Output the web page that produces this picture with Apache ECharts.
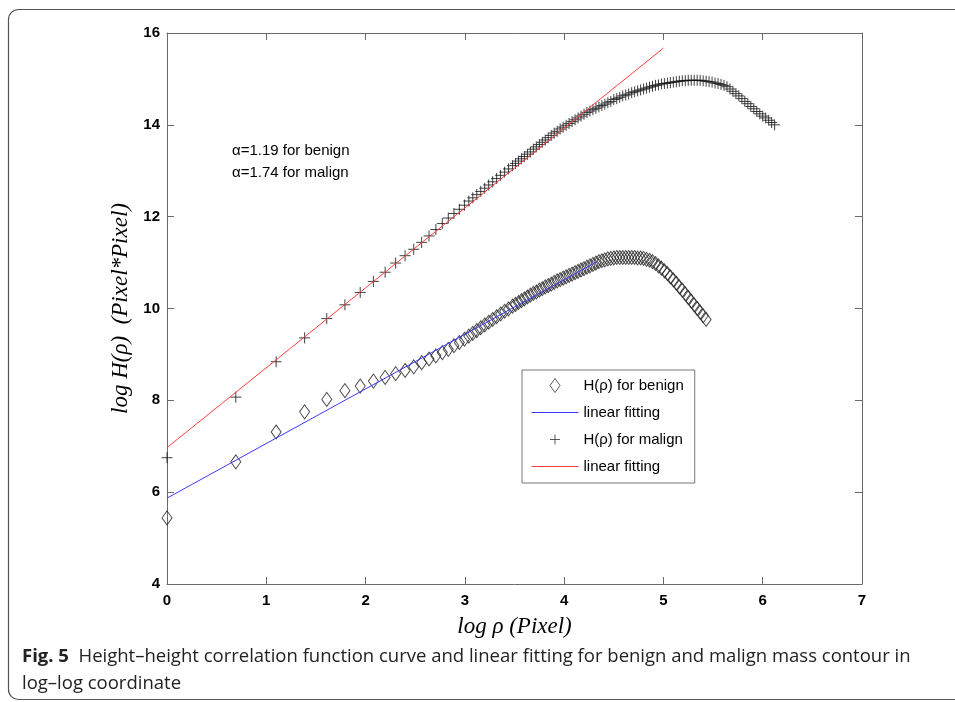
<!DOCTYPE html>
<html>
<head>
<meta charset="utf-8">
<script src="https://cdn.jsdelivr.net/npm/echarts@6/dist/echarts.min.js"></script>
<style>html,body{margin:0;padding:0;background:#fff;}#c{width:955px;height:702px;}</style>
</head>
<body>
<div id="c"></div>
<script>
// log rho values (shared by both curves)
const logRho = [0, 0.693, 1.099, 1.386, 1.609, 1.792, 1.946, 2.079, 2.197, 2.303, 2.398, 2.485, 2.565, 2.639, 2.708, 2.773, 2.833, 2.890, 2.944, 2.996,
  3.04, 3.08, 3.12, 3.16, 3.20, 3.24, 3.28, 3.32, 3.36, 3.40, 3.44, 3.48,
  3.51, 3.54, 3.57, 3.60, 3.63, 3.66, 3.69, 3.72, 3.75, 3.78, 3.81, 3.84, 3.87, 3.90, 3.93, 3.96, 3.99,
  4.02, 4.05, 4.08, 4.11, 4.14, 4.17, 4.20, 4.23, 4.26, 4.29, 4.32, 4.35, 4.38, 4.41, 4.44, 4.47, 4.50,
  4.53, 4.56, 4.59, 4.62, 4.65, 4.68, 4.71, 4.74, 4.77, 4.80, 4.83, 4.86, 4.89, 4.92, 4.95, 4.98,
  5.01, 5.04, 5.07, 5.10, 5.13, 5.16, 5.19, 5.22, 5.25, 5.28, 5.31, 5.34, 5.37, 5.40, 5.43,
  5.46, 5.49, 5.52, 5.55, 5.58, 5.61, 5.64, 5.67, 5.70, 5.73, 5.76, 5.79, 5.82, 5.85, 5.88, 5.91, 5.94, 5.97,
  6.00, 6.03, 6.06, 6.09, 6.12];

// log H(rho) for benign (first 97 rho values)
const benignH = [5.44, 6.66, 7.31, 7.75, 8.02, 8.21, 8.31, 8.42, 8.50, 8.58, 8.65, 8.73, 8.82, 8.90, 8.97, 9.04, 9.11, 9.19, 9.26, 9.33,
  9.40, 9.46, 9.52, 9.58, 9.64, 9.70, 9.76, 9.82, 9.88, 9.94, 9.99, 10.05,
  10.09, 10.13, 10.17, 10.21, 10.25, 10.29, 10.33, 10.36, 10.40, 10.43, 10.47, 10.50, 10.53, 10.57, 10.60, 10.63, 10.66,
  10.69, 10.72, 10.75, 10.78, 10.81, 10.84, 10.87, 10.90, 10.93, 10.96, 10.99, 11.02, 11.04, 11.06, 11.08, 11.09, 11.10,
  11.11, 11.11, 11.11, 11.11, 11.11, 11.11, 11.11, 11.10, 11.10, 11.09, 11.07, 11.05, 11.02, 10.98, 10.93, 10.88,
  10.82, 10.76, 10.69, 10.62, 10.55, 10.47, 10.40, 10.32, 10.24, 10.16, 10.08, 10.00, 9.92, 9.84, 9.76];

// log H(rho) for malign (all rho values)
const malignH = [6.75, 8.07, 8.84, 9.36, 9.78, 10.08, 10.35, 10.59, 10.79, 10.99, 11.15, 11.29, 11.44, 11.58, 11.72, 11.85, 11.97, 12.07, 12.16, 12.25,
  12.34, 12.41, 12.48, 12.55, 12.62, 12.69, 12.76, 12.83, 12.90, 12.97, 13.04, 13.11,
  13.16, 13.21, 13.26, 13.31, 13.36, 13.41, 13.47, 13.52, 13.57, 13.62, 13.67, 13.72, 13.77, 13.82, 13.86, 13.91, 13.95,
  13.99, 14.03, 14.07, 14.11, 14.15, 14.19, 14.23, 14.27, 14.30, 14.33, 14.36, 14.39, 14.42, 14.45, 14.48, 14.51, 14.55,
  14.57, 14.60, 14.63, 14.65, 14.67, 14.70, 14.72, 14.74, 14.76, 14.78, 14.80, 14.82, 14.84, 14.86, 14.87, 14.89,
  14.90, 14.91, 14.92, 14.93, 14.94, 14.95, 14.96, 14.96, 14.97, 14.97, 14.97, 14.97, 14.97, 14.96, 14.95,
  14.94, 14.93, 14.91, 14.90, 14.88, 14.86, 14.83, 14.78, 14.73, 14.68, 14.63, 14.57, 14.51, 14.46, 14.40, 14.35, 14.29, 14.24,
  14.19, 14.15, 14.10, 14.05, 14.00];

// linear fitting lines (end points)
const benignFitX = [0, 4.33];
const benignFitY = [5.87, 11.02];
const malignFitX = [0, 5.0];
const malignFitY = [6.97, 15.67];

// axis ticks
const xTicks = { min: 0, max: 7, interval: 1 };
const yTicks = { min: 4, max: 16, interval: 2 };

const legendNames = ['H(ρ) for benign', 'linear fitting', 'H(ρ) for malign', 'linear fitting'];

const BLUE = '#3a3aff', RED = '#ff4040';

function pairs(xs, ys) { return ys.map((y, i) => [xs[i], y]); }

const chart = echarts.init(document.getElementById('c'), null, { renderer: 'canvas' });

const axisCommon = {
  type: 'value',
  axisLine: { show: true, onZero: false, lineStyle: { color: '#6a6a6a', width: 1 } },
  axisTick: { show: true, inside: true, length: 7, lineStyle: { color: '#6a6a6a', width: 1 } },
  splitLine: { show: false }
};
const tickLabel = { color: '#000', fontFamily: 'Liberation Sans', fontWeight: 'bold', fontSize: 15 };
const nameStyle = { color: '#000', fontFamily: 'Liberation Serif', fontStyle: 'italic', fontSize: 23 };
const lineIcon = 'path://M0,0M0,14M0,7H47';

chart.setOption({
  animation: false,
  backgroundColor: '#fff',
  grid: { left: 167, top: 33, width: 695, height: 551, containLabel: false },
  xAxis: [
    Object.assign({}, axisCommon, {
      position: 'bottom', min: xTicks.min, max: xTicks.max, interval: xTicks.interval,
      axisLabel: Object.assign({ margin: 9 }, tickLabel),
      name: 'log ρ (Pixel)', nameLocation: 'middle', nameGap: 31, nameTextStyle: nameStyle
    }),
    Object.assign({}, axisCommon, {
      position: 'top', min: xTicks.min, max: xTicks.max, interval: xTicks.interval,
      axisLabel: { show: false }
    })
  ],
  yAxis: [
    Object.assign({}, axisCommon, {
      position: 'left', min: yTicks.min, max: yTicks.max, interval: yTicks.interval,
      axisLabel: Object.assign({ margin: 7 }, tickLabel),
      name: 'log H(ρ)  (Pixel*Pixel)', nameLocation: 'middle', nameGap: 33, nameTextStyle: nameStyle
    }),
    Object.assign({}, axisCommon, {
      position: 'right', min: yTicks.min, max: yTicks.max, interval: yTicks.interval,
      axisLabel: { show: false }
    })
  ],
  legend: {
    orient: 'vertical', left: 522, top: 370,
    padding: [8, 11, 9, 9],
    itemWidth: 47, itemHeight: 14, itemGap: 12,
    backgroundColor: '#fff', borderColor: '#777', borderWidth: 1,
    selectedMode: false,
    textStyle: { color: '#000', fontFamily: 'Liberation Sans', fontSize: 15, lineHeight: 14 },
    formatter: function (n) { return n === 'fitB' || n === 'fitM' ? 'linear fitting' : n; },
    data: [
      { name: legendNames[0], icon: 'path://M5,0L10,7L5,14L0,7Z', itemStyle: { color: 'transparent', borderColor: '#333', borderWidth: 1 } },
      { name: 'fitB', icon: lineIcon, itemStyle: { color: 'transparent', borderColor: BLUE, borderWidth: 1 } },
      { name: legendNames[2], icon: 'path://M0,0M14,14M2,7H12M7,2V12', itemStyle: { color: 'transparent', borderColor: '#333', borderWidth: 1 } },
      { name: 'fitM', icon: lineIcon, itemStyle: { color: 'transparent', borderColor: RED, borderWidth: 1 } }
    ]
  },
  series: [
    {
      name: legendNames[0], type: 'scatter', data: pairs(logRho, benignH),
      symbol: 'diamond', symbolSize: [10, 14], clip: false, silent: true,
      itemStyle: { color: 'transparent', borderColor: '#1e1e1e', borderWidth: 1 }
    },
    {
      name: 'fitB', type: 'line', data: pairs(benignFitX, benignFitY),
      symbol: 'none', showSymbol: false, clip: false, silent: true,
      lineStyle: { color: BLUE, width: 1 }, itemStyle: { color: BLUE }
    },
    {
      name: legendNames[2], type: 'scatter', data: pairs(logRho, malignH),
      symbol: 'path://M0,5H10M5,0V10', symbolSize: 11, clip: false, silent: true,
      itemStyle: { color: 'transparent', borderColor: '#111', borderWidth: 1 }
    },
    {
      name: 'fitM', type: 'line', data: pairs(malignFitX, malignFitY),
      symbol: 'none', showSymbol: false, clip: false, silent: true,
      lineStyle: { color: RED, width: 1 }, itemStyle: { color: RED }
    }
  ],
  graphic: [
    { type: 'rect', silent: true, z: -1, shape: { x: 8.5, y: 9.5, width: 1000, height: 690, r: 10 },
      style: { fill: 'none', stroke: '#555', lineWidth: 1.2 } },
    { type: 'text', silent: true, x: 232, y: 140,
      style: { text: 'α=1.19 for benign\nα=1.74 for malign', fontFamily: 'Liberation Sans', fontSize: 15, lineHeight: 22, fill: '#000' } },
    { type: 'text', silent: true, x: 22, y: 647,
      style: { text: '{b|Fig. 5}  Height–height correlation function curve and linear fitting for benign and malign mass contour in',
        fontFamily: 'Open Sans', fontSize: 18.5, fill: '#222',
        rich: { b: { fontFamily: 'Open Sans', fontWeight: 'bold', fontSize: 18.5, fill: '#222' } } } },
    { type: 'text', silent: true, x: 22, y: 674,
      style: { text: 'log–log coordinate', fontFamily: 'Open Sans', fontSize: 18.5, fill: '#222' } }
  ]
});
</script>
</body>
</html>
